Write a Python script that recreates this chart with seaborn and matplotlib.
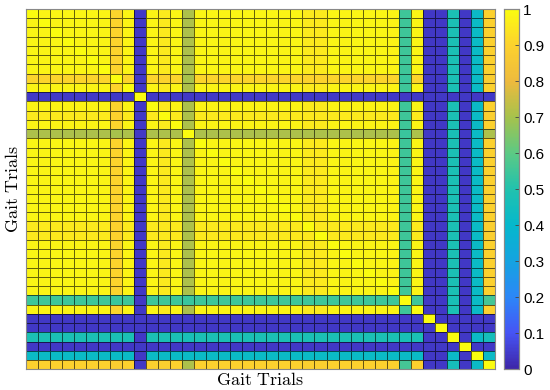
import numpy as np
import pandas as pd
import seaborn as sns
import matplotlib
matplotlib.use("Agg")
import matplotlib.pyplot as plt
from matplotlib.colors import LinearSegmentedColormap

# group of each gait trial (39 trials), read off the rows/columns of the map
# Y main cluster, y slightly weaker, O orange trial, G green trial,
# T teal trial, R orange last trial, C/c cyan trials, B unrelated (blue)
trial_group = ['Y', 'Y', 'Y', 'Y', 'Y', 'Y', 'Y', 'O', 'Y', 'B',
               'Y', 'y', 'Y', 'G', 'Y', 'Y', 'Y', 'Y', 'Y', 'Y',
               'Y', 'Y', 'Y', 'y', 'y', 'Y', 'Y', 'Y', 'Y', 'Y',
               'Y', 'T', 'Y', 'B', 'B', 'C', 'B', 'c', 'R']

# similarity between groups (symmetric), estimated from the colours
group_pair = {
    ('Y', 'Y'): 0.98, ('Y', 'y'): 0.955, ('y', 'y'): 0.95,
    ('Y', 'O'): 0.905, ('y', 'O'): 0.90,
    ('Y', 'G'): 0.71, ('y', 'G'): 0.71, ('O', 'G'): 0.70,
    ('Y', 'T'): 0.55, ('y', 'T'): 0.55, ('O', 'T'): 0.54, ('G', 'T'): 0.54,
    ('Y', 'R'): 0.895, ('y', 'R'): 0.89, ('O', 'R'): 0.88, ('G', 'R'): 0.71, ('T', 'R'): 0.56,
    ('Y', 'C'): 0.48, ('y', 'C'): 0.48, ('O', 'C'): 0.48, ('G', 'C'): 0.47, ('T', 'C'): 0.47,
    ('R', 'C'): 0.46,
    ('Y', 'c'): 0.42, ('y', 'c'): 0.42, ('O', 'c'): 0.42, ('G', 'c'): 0.42, ('T', 'c'): 0.42,
    ('R', 'c'): 0.42, ('C', 'c'): 0.42,
}
unrelated_level = 0.04

cbar_ticks = [0, 0.1, 0.2, 0.3, 0.4, 0.5, 0.6, 0.7, 0.8, 0.9, 1]
cbar_labels = ['0', '0.1', '0.2', '0.3', '0.4', '0.5', '0.6', '0.7', '0.8', '0.9', '1']

# parula-like colormap
parula_pts = [(0.242, 0.150, 0.660), (0.275, 0.330, 0.960), (0.170, 0.530, 0.970),
              (0.080, 0.640, 0.880), (0.020, 0.720, 0.800), (0.130, 0.760, 0.680),
              (0.360, 0.790, 0.520), (0.650, 0.760, 0.300), (0.930, 0.730, 0.240),
              (0.990, 0.820, 0.180), (0.985, 0.990, 0.060)]
parula = LinearSegmentedColormap.from_list('parula', parula_pts)


def pair_value(a, b):
    if a == 'B' or b == 'B':
        return unrelated_level
    if (a, b) in group_pair:
        return group_pair[(a, b)]
    return group_pair[(b, a)]


n = len(trial_group)
sim = np.ones((n, n))
for i in range(n):
    for j in range(n):
        if i != j:
            sim[i, j] = pair_value(trial_group[i], trial_group[j])
df = pd.DataFrame(sim)

plt.rcParams['mathtext.fontset'] = 'cm'
fig = plt.figure(figsize=(5.5, 3.9), dpi=100)
ax = fig.add_axes([0.0467, 0.0531, 0.8533, 0.9238])
cax = fig.add_axes([0.9164, 0.0531, 0.0273, 0.9238])

sns.heatmap(df, ax=ax, cbar_ax=cax, cmap=parula, vmin=0, vmax=1,
            linewidths=0.6, linecolor=(0, 0, 0, 0.6),
            xticklabels=False, yticklabels=False)
ax.set_xlabel(r'$\mathrm{Gait\ Trials}$', fontsize=13, labelpad=1.5)
ax.set_ylabel(r'$\mathrm{Gait\ Trials}$', fontsize=13, labelpad=3)
for s in ax.spines.values():
    s.set_visible(True)
    s.set_color('#888888')
    s.set_linewidth(0.8)

cax.set_yticks(cbar_ticks)
cax.set_yticklabels(cbar_labels, family='Liberation Sans', fontsize=11)
cax.tick_params(direction='in', length=3, width=0.6, color='#444444', pad=3)
for s in cax.spines.values():
    s.set_visible(True)
    s.set_color('#888888')
    s.set_linewidth(0.8)

fig.savefig('out.png', dpi=100)
